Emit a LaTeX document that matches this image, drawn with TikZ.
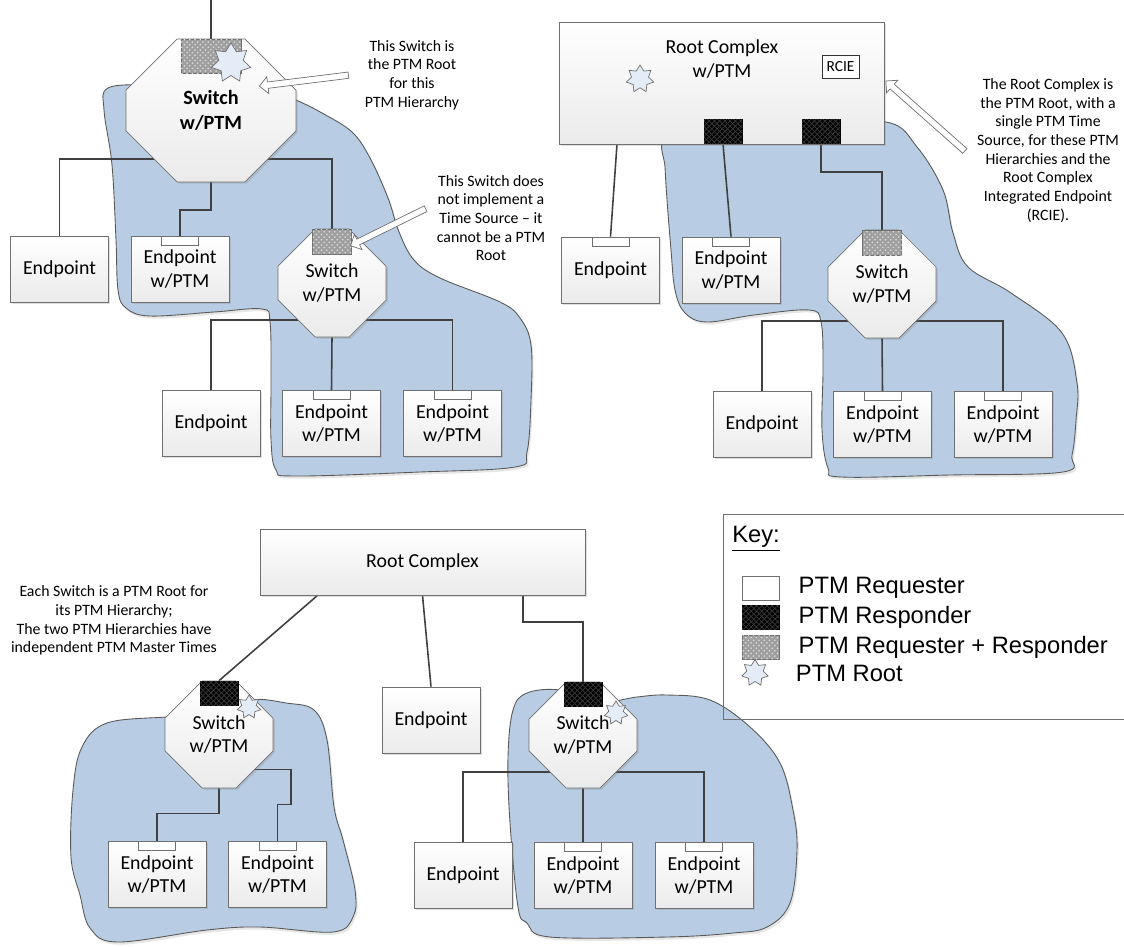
\documentclass[tikz,border=0pt]{standalone}
\usepackage{fontspec}
\setmainfont{Carlito}
\newfontfamily\keyfam{Liberation Sans}
\usetikzlibrary{positioning,calc,patterns,shapes.geometric,shapes.misc,shapes.arrows,shadows}
\definecolor{blobblue}{HTML}{B8CDE3}
\definecolor{starblue}{HTML}{E4ECF8}
\definecolor{edgegray}{HTML}{707070}
\definecolor{wiregray}{HTML}{404040}
\newcommand{\boxfont}{\fontsize{11.3}{13.2}\selectfont}
\newcommand{\notefont}{\fontsize{9}{10.6}\selectfont}
\newcommand{\keyfont}{\keyfam\fontsize{13.5}{15}\selectfont}
\pgfdeclarelayer{blobs}
\pgfdeclarelayer{wires}
\pgfsetlayers{blobs,wires,main}

\begin{document}
\begin{tikzpicture}[
    x=0.02cm, y=-0.02cm,
    every node/.style={font=\boxfont, align=center},
    device/.style={draw=edgegray, top color=white, bottom color=gray!16,
                   drop shadow={shadow xshift=1pt, shadow yshift=-1pt, opacity=0.25},
                   inner sep=0pt},
    endpt/.style={device, rectangle, minimum width=1.96cm, minimum height=1.32cm},
    switchbox/.style={device, chamfered rectangle, minimum width=2.16cm, minimum height=2.16cm,
                      chamfered rectangle xsep=0.36cm, chamfered rectangle ysep=0.38cm},
    req/.style={draw=edgegray, fill=white, minimum width=0.74cm, minimum height=0.18cm, inner sep=0pt},
    resp/.style={draw=black, fill=black, minimum width=0.76cm, minimum height=0.48cm, inner sep=0pt,
                 postaction={pattern=crosshatch, pattern color=black!78}},
    reqresp/.style={draw=edgegray, fill=gray!75, minimum width=0.78cm, minimum height=0.5cm, inner sep=0pt,
                    postaction={pattern=crosshatch dots, pattern color=gray!25}},
    rootstar/.style={star, star points=7, star point ratio=1.6, draw=edgegray, fill=starblue,
                     minimum size=#1, inner sep=0pt},
    rootstar/.default=0.5cm,
    blob/.style={draw=black!65, fill=blobblue, line width=0.5pt,
                 drop shadow={shadow xshift=1pt, shadow yshift=-1.5pt, opacity=0.2}},
    wire/.style={draw=wiregray, line width=0.9pt},
    note/.style={font=\notefont, inner sep=0pt},
    keytext/.style={font=\keyfont, inner sep=0pt},
    pointer/.style={single arrow, draw=edgegray, fill=white, inner sep=1.6pt,
                    single arrow head extend=3pt, single arrow head indent=0pt}
]
    \useasboundingbox (0,0) rectangle (1124,946);

    % Top left: switch is the PTM root
    \node[switchbox, minimum width=3.4cm, minimum height=2.86cm,
          chamfered rectangle xsep=0.9cm, chamfered rectangle ysep=0.76cm,
          font={\fontsize{11.5}{14.2}\selectfont\bfseries}] (s1) at (211,110.5) {Switch\\w/PTM};
    \node[reqresp, anchor=north, minimum width=1.2cm, minimum height=0.68cm] (s1p) at (s1.north) {};
    \node[rootstar=0.8cm] (s1star) at (231,63) {};
    \node[endpt] (ep1) at (59.5,269) {Endpoint};
    \node[endpt] (ep2) at (180,269) {Endpoint\\w/PTM};
    \node[req, anchor=north] (ep2r) at (ep2.north) {};
    \node[switchbox] (s2) at (332,283) {Switch\\w/PTM};
    \node[reqresp, anchor=north] (s2p) at (s2.north) {};
    \node[endpt] (ep3) at (211,423.5) {Endpoint};
    \node[endpt] (ep4) at (331.5,423.5) {Endpoint\\w/PTM};
    \node[req, anchor=north] (ep4r) at (ep4.north) {};
    \node[endpt] (ep5) at (452.5,423.5) {Endpoint\\w/PTM};
    \node[req, anchor=north] (ep5r) at (ep5.north) {};
    \coordinate (s1top) at (211,0);
    \coordinate (s1bus) at (211,159);
    \coordinate (s1knee) at (211,210);
    \coordinate (s2bus) at (332,320);

    \node[note] (note1) at (412,75) {This Switch is\\the PTM Root\\for this\\PTM Hierarchy};
    \node[note] (note2) at (491,218) {This Switch does\\not implement a\\Time Source -- it\\cannot be a PTM\\Root};
    \coordinate (a1tail) at (350,75);
    \coordinate (a1tip) at (261,86);
    \coordinate (a2tail) at (427,208);
    \coordinate (a2tip) at (352,245);

    % Top right: root complex is the PTM root
    \node[device, minimum width=6.5cm, minimum height=2.44cm] (rc) at (721.5,83) {};
    \node (rctext) at (722,59) {Root Complex\\w/PTM};
    \node[rootstar=0.56cm] (rcstar) at (640,79) {};
    \node[draw=black!80, fill=white, font=\fontsize{8.8}{10}\selectfont, inner sep=0pt,
          minimum width=0.74cm, minimum height=0.46cm] (rcie) at (840.5,66.5) {RCIE};
    \node[resp, anchor=south] (rc1p) at (723,144) {};
    \node[resp, anchor=south] (rc2p) at (821,144) {};
    \coordinate (rcleg) at (617,144);
    \node[endpt] (ep6) at (610.5,270) {Endpoint};
    \node[req, anchor=north] (ep6r) at (ep6.north) {};
    \node[endpt] (ep7) at (731,270) {Endpoint\\w/PTM};
    \node[req, anchor=north] (ep7r) at (ep7.north) {};
    \node[switchbox] (s3) at (882,284) {Switch\\w/PTM};
    \node[reqresp, anchor=north] (s3p) at (s3.north) {};
    \node[endpt] (ep8) at (762,424.5) {Endpoint};
    \node[endpt] (ep9) at (882.5,424.5) {Endpoint\\w/PTM};
    \node[req, anchor=north] (ep9r) at (ep9.north) {};
    \node[endpt] (ep10) at (1003,424.5) {Endpoint\\w/PTM};
    \node[req, anchor=north] (ep10r) at (ep10.north) {};
    \coordinate (s3bus) at (882,321);

    \node[note] (note3) at (1048,150.5) {The Root Complex is\\the PTM Root, with a\\single PTM Time\\Source, for these PTM\\Hierarchies and the\\Root Complex\\Integrated Endpoint\\(RCIE).};
    \coordinate (a3tail) at (966,152);
    \coordinate (a3tip) at (887,82);

    % Bottom: each switch is a PTM root
    \node[device, minimum width=6.5cm, minimum height=1.32cm] (rc2) at (422.5,562) {Root Complex};
    \coordinate (rc2l) at (318,595);
    \coordinate (rc2r) at (523,595);
    \node[note] (note4) at (114,620.5) {Each Switch is a PTM Root for\\its PTM Hierarchy;\\The two PTM Hierarchies have\\independent PTM Master Times};
    \node[switchbox, minimum height=2.14cm] (sl) at (219,734.5) {Switch\\w/PTM};
    \node[resp, anchor=north] (slp) at (sl.north) {};
    \node[rootstar=0.48cm] (slstar) at (249,707) {};
    \node[endpt] (ep11) at (431,720) {Endpoint};
    \node[switchbox, minimum height=2.12cm] (sr) at (583,735) {Switch\\w/PTM};
    \node[resp, anchor=north] (srp) at (sr.north) {};
    \node[rootstar=0.48cm] (srstar) at (616,713) {};
    \node[endpt] (ep12) at (157,874.5) {Endpoint\\w/PTM};
    \node[req, anchor=north] (ep12r) at (ep12.north) {};
    \node[endpt] (ep13) at (277.5,874.5) {Endpoint\\w/PTM};
    \node[req, anchor=north] (ep13r) at (ep13.north) {};
    \node[endpt] (ep14) at (463,875.5) {Endpoint};
    \node[endpt] (ep15) at (583,875.5) {Endpoint\\w/PTM};
    \node[req, anchor=north] (ep15r) at (ep15.north) {};
    \node[endpt] (ep16) at (704,875.5) {Endpoint\\w/PTM};
    \node[req, anchor=north] (ep16r) at (ep16.north) {};
    \coordinate (srbus) at (583,772);

    % Key
    \node[draw=edgegray, line width=0.8pt, anchor=north west, minimum width=8.2cm,
          minimum height=4.1cm] (key) at (723,514) {};
    \node[keytext, anchor=west] (keytitle) at (732,539) {\underline{Key:}};
    \node[req, minimum height=0.48cm] (kreq) at (760.5,588) {};
    \node[resp, minimum width=0.74cm] (kresp) at (760.5,617) {};
    \node[reqresp, minimum width=0.74cm, minimum height=0.48cm] (kboth) at (760.5,647) {};
    \node[rootstar=0.54cm] (kstar) at (755,673) {};
    \node[keytext, right=0.38cm of kreq] (kreqt) {PTM Requester};
    \node[keytext, right=0.38cm of kresp] (krespt) {PTM Responder};
    \node[keytext, right=0.38cm of kboth] (kbotht) {PTM Requester + Responder};
    \node[keytext, right=0.6cm of kstar] (kstart) {PTM Root};

    % Hollow pointers
    \foreach \a/\b in {a1tail/a1tip, a2tail/a2tip, a3tail/a3tip} {
        \path let \p1=($(\b)-(\a)$), \n1={atan2(\y1,\x1)}, \n2={veclen(\x1,\y1)}
            in node[pointer, rotate=\n1, minimum height=\n2] at ($(\a)!0.5!(\b)$) {};
    }

    % Connections
    \begin{pgfonlayer}{wires}
        \draw[wire] (s1top) -- (s1p.north);
        \draw[wire] (ep1.north) |- (s1bus) -| (s2p.north);
        \draw[wire] (s1.south) -- (s1knee) -| (ep2r.north);
        \draw[wire] (ep3.north) |- (s2bus) -| (ep5r.north);
        \draw[wire] (s2.south) -- (ep4r.north);
        \draw[wire] (rcleg) -- (ep6r.north);
        \draw[wire] (rc1p.south) -- (ep7r.north);
        \draw[wire] (rc2p.south) -- ++(0,28) -| (s3p.north);
        \draw[wire] (ep8.north) |- (s3bus) -| (ep10r.north);
        \draw[wire] (s3.south) -- (ep9r.north);
        \draw[wire] (rc2l) -- (slp.north);
        \draw[wire] (rc2.south) -- (ep11.north);
        \draw[wire] (rc2r) -- ++(0,27) -| (srp.north);
        \draw[wire] (sl.south) -- ++(0,25) -| (ep12r.north);
        \draw[wire] ($(sl.center)+(0,35)$) -- ++(72,0) -- ++(0,35) -| (ep13r.north);
        \draw[wire] (ep14.north) |- (srbus) -| (ep16r.north);
        \draw[wire] (sr.south) -- (ep15r.north);
    \end{pgfonlayer}

    % PTM hierarchies
    \begin{pgfonlayer}{blobs}
        \path[blob] plot[smooth cycle, tension=0.6] coordinates {
            (200,80) (150,84) (108,88) (104,110) (112,165) (116,240) (118,290) (126,308)
            (150,316) (214,312) (262,309) (270,322) (271,380) (271,440) (276,470) (295,476)
            (420,472) (515,467) (527,452) (531,400) (531,345) (520,318) (500,302) (440,278)
            (414,260) (399,232) (388,198) (370,158) (352,132) (322,113) (296,100) (260,85)};
        \path[blob] plot[smooth cycle, tension=0.6] coordinates {
            (700,130) (664,140) (665,167) (667,200) (671,250) (675,290) (685,313) (707,322)
            (754,315) (809,310) (821,322) (823,367) (822,430) (828,468) (842,477) (950,475)
            (1063,472) (1072,455) (1076,420) (1077,383) (1062,333) (1011,293) (968,267)
            (953,233) (943,190) (917,147) (886,122) (800,125)};
        \path[blob] plot[smooth cycle, tension=0.6] coordinates {
            (200,715) (166,717) (107,723) (82,747) (73,790) (71,857) (80,895) (90,928)
            (118,942) (207,930) (260,927) (333,932) (353,917) (355,890) (343,840) (334,807)
            (327,740) (314,710) (286,703) (250,700)};
        \path[blob] plot[smooth cycle, tension=0.6] coordinates {
            (560,690) (527,693) (513,710) (508,757) (510,823) (518,907) (527,923) (550,937)
            (667,937) (733,933) (767,927) (790,903) (797,850) (793,810) (780,763) (750,727)
            (710,700) (667,695) (637,697) (600,702)};
    \end{pgfonlayer}
\end{tikzpicture}
\end{document}
